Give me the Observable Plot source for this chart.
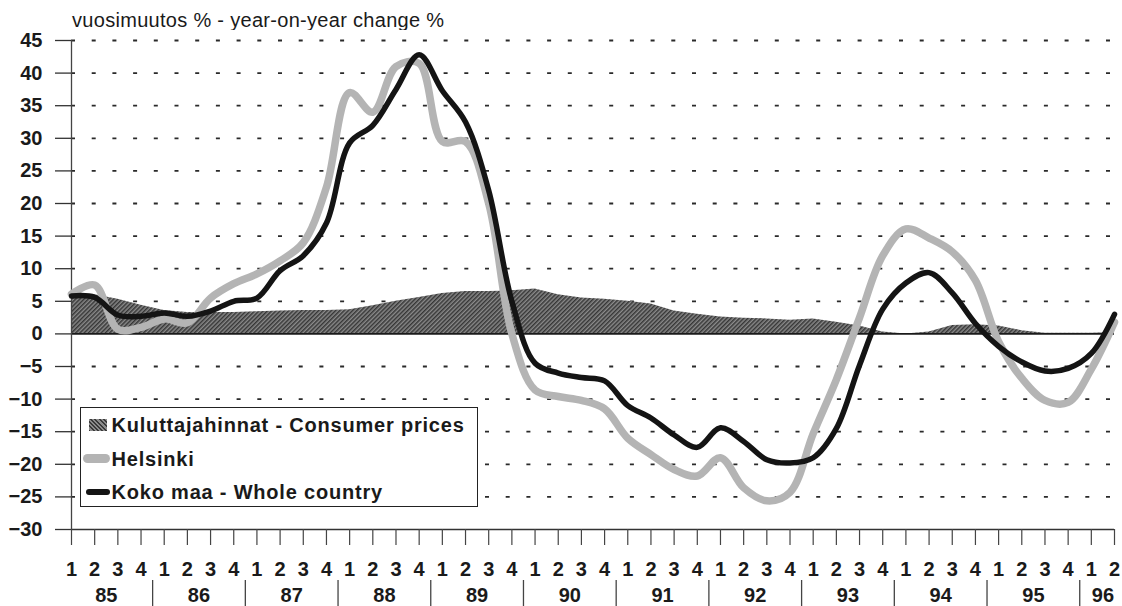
<!DOCTYPE html>
<html>
<head>
<meta charset="utf-8">
<script src="https://cdn.jsdelivr.net/npm/d3@7"></script>
<script src="https://cdn.jsdelivr.net/npm/@observablehq/plot@0.6"></script>
<style>
  html, body { margin: 0; padding: 0; background: #fff; }
  #wrap { position: relative; width: 1122px; height: 606px; overflow: hidden;
          font-family: "Liberation Sans", Arial, sans-serif; color: #1a1a1a; }
  #title { position: absolute; left: 72px; top: 10px; font-size: 20px; line-height: 20px;
           letter-spacing: 0.3px; white-space: nowrap; }
  #chart { position: absolute; left: 0; top: 30px; }
  #legend { position: absolute; left: 80px; top: 407px; width: 396px; height: 98px;
            border: 1.5px solid #222; background: #fff; }
  .item { position: absolute; left: 30.5px; font-size: 20px; line-height: 20px; font-weight: bold;
          letter-spacing: 0.8px; white-space: nowrap; }
  .sw { position: absolute; }
</style>
</head>
<body>
<div id="wrap">
  <div id="title">vuosimuutos % - year-on-year change %</div>
  <div id="chart"></div>
  <div id="legend">
    <div class="sw" style="left:7.5px;top:10.5px;width:18px;height:12px;background:repeating-linear-gradient(45deg,#3a3a3a 0 1.4px,#8c8c8c 1.4px 3px);"></div>
    <div class="item" style="top:6.5px;">Kuluttajahinnat - Consumer prices</div>
    <div class="sw" style="left:1.5px;top:45.5px;width:27px;height:9px;border-radius:4.5px;background:#b4b4b4;"></div>
    <div class="item" style="top:40.5px;">Helsinki</div>
    <div class="sw" style="left:4.5px;top:80.5px;width:24px;height:6px;border-radius:3px;background:#141414;"></div>
    <div class="item" style="top:73.5px;">Koko maa - Whole country</div>
  </div>
</div>
<script>
// ---- data (quarterly, 1985 Q1 - 1996 Q2) ----
const years = ["85","86","87","88","89","90","91","92","93","94","95","96"];
const quarterLabels = [
  "1","2","3","4", "1","2","3","4", "1","2","3","4", "1","2","3","4",
  "1","2","3","4", "1","2","3","4", "1","2","3","4", "1","2","3","4",
  "1","2","3","4", "1","2","3","4", "1","2","3","4", "1","2"
];
const yTicks = [45,40,35,30,25,20,15,10,5,0,-5,-10,-15,-20,-25,-30];

const consumerPrices = [
  6.1,6.0,5.3,4.4,  3.6,3.3,3.3,3.3,  3.4,3.5,3.6,3.6,  3.7,4.3,5.0,5.6,
  6.2,6.5,6.5,6.6,  6.9,6.0,5.5,5.3,  5.0,4.6,3.5,3.0,  2.6,2.4,2.3,2.1,
  2.3,1.8,1.2,0.3,  0.0,0.3,1.3,1.4,  1.2,0.5,0.1,0.1,  0.1,0.2
];
const helsinki = [
  6.1,7.5,0.7,1.0,  2.3,1.7,5.5,7.7,  9.2,11.2,14.0,22.5,  37.0,34.0,41.0,41.5,
  29.5,29.5,20.0,0.0,  -8.6,-9.6,-10.2,-11.5,  -16.0,-18.5,-20.8,-21.8,  -19.0,-23.6,-25.6,-24.3,
  -15.3,-7.0,2.5,12.0,  16.1,14.7,12.6,8.2,  -1.2,-6.8,-10.2,-10.5,  -5.4,1.8
];
const wholeCountry = [
  5.8,5.6,2.9,2.7,  3.2,2.7,3.5,5.0,  5.5,9.7,12.0,17.0,  29.3,32.0,37.5,42.8,
  37.3,32.5,22.0,5.0,  -4.5,-6.0,-6.7,-7.2,  -11.0,-12.9,-15.5,-17.4,  -14.4,-16.5,-19.3,-19.8,
  -19.0,-14.5,-4.8,3.8,  7.8,9.4,6.3,1.6,  -1.9,-4.3,-5.7,-5.3,  -3.0,3.0
];

// ---- derived helpers ----
const idx = quarterLabels.map((_, i) => i);
const yearOf = i => years[Math.floor(i / 4)];
const yearCenters = years.map(y => ({year: y, x: d3.mean(idx.filter(i => yearOf(i) === y))}));
const separators = years.slice(1).map(y => d3.min(idx.filter(i => yearOf(i) === y)) - 0.5);

const W = 1122, H = 576, mTop = 10, mBottom = 77, mLeft = 71, mRight = 8;
const yDomain = [-30, 45];
const pxPerUnit = (H - mTop - mBottom) / (yDomain[1] - yDomain[0]);
const sepY1 = yDomain[0] - 51 / pxPerUnit;
const sepY2 = yDomain[0] - 77 / pxPerUnit;

const chart = Plot.plot({
  width: W, height: H,
  marginTop: mTop, marginBottom: mBottom, marginLeft: mLeft, marginRight: mRight,
  x: {domain: [0, quarterLabels.length - 1], axis: null, label: null},
  y: {domain: yDomain, axis: null, label: null},
  style: {fontFamily: "'Liberation Sans', Arial, sans-serif", fontSize: "20px", color: "#1a1a1a", background: "white", overflow: "visible"},
  marks: [
    Plot.ruleY(yTicks.filter(v => v !== 0 && v !== -30), {stroke: "#2a2a2a", strokeWidth: 1.8, strokeDasharray: "4,16.7"}),
    Plot.areaY(consumerPrices, {x: (d, i) => i, y: d => d, fill: "url(#cpiHatch)"}),
    Plot.ruleY([0], {stroke: "#1a1a1a", strokeWidth: 1.6}),
    Plot.ruleY([-30], {stroke: "#333", strokeWidth: 1.5}),
    Plot.ruleX([0], {y1: -30, y2: 45, stroke: "#444", strokeWidth: 1.3}),
    Plot.axisY({ticks: yTicks, label: null, tickSize: 16, tickPadding: 13, fontSize: 20, fontWeight: "bold", stroke: "#333", strokeWidth: 1.3}),
    Plot.axisX({ticks: idx, label: null, tickSize: 16, tickPadding: 16, tickFormat: i => quarterLabels[i], fontSize: 20, fontWeight: "bold", stroke: "#444", strokeWidth: 1.2}),
    Plot.text(yearCenters, {x: "x", y: () => -30, text: "year", dy: 66, lineAnchor: "middle", fontSize: 20, fontWeight: "bold"}),
    Plot.ruleX(separators, {x: d => d, y1: () => sepY1, y2: () => sepY2, stroke: "#444", strokeWidth: 1.3}),
    Plot.line(helsinki, {x: (d, i) => i, y: d => d, stroke: "url(#helsDots)", strokeWidth: 7.5, curve: "catmull-rom", strokeLinejoin: "round", strokeLinecap: "round"}),
    Plot.line(wholeCountry, {x: (d, i) => i, y: d => d, stroke: "#141414", strokeWidth: 5.5, curve: "catmull-rom", strokeLinejoin: "round", strokeLinecap: "round"})
  ]
});

const NS = "http://www.w3.org/2000/svg";
const defs = document.createElementNS(NS, "defs");
defs.innerHTML = `
  <pattern id="cpiHatch" patternUnits="userSpaceOnUse" width="3" height="3" patternTransform="rotate(45)">
    <rect width="3" height="3" fill="#8a8a8a"></rect>
    <rect width="1.5" height="3" fill="#363636"></rect>
  </pattern>
  <pattern id="helsDots" patternUnits="userSpaceOnUse" width="2" height="2">
    <rect width="2" height="2" fill="#c6c6c6"></rect>
    <rect width="1" height="1" fill="#7e7e7e"></rect>
  </pattern>`;
chart.insertBefore(defs, chart.firstChild);
document.getElementById("chart").appendChild(chart);
</script>
</body>
</html>
